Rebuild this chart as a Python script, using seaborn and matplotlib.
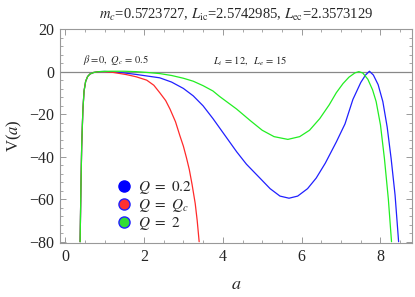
import numpy as np
import pandas as pd
import seaborn as sns
import matplotlib
matplotlib.use("Agg")
import matplotlib.pyplot as plt
from matplotlib.lines import Line2D
from matplotlib.ticker import MultipleLocator

# values
a_blue = [0.38, 0.40, 0.42, 0.45, 0.48, 0.52, 0.57, 0.63, 0.72, 0.85, 1.0, 1.2, 1.5, 1.8,
          2.1, 2.4, 2.7, 3.0, 3.25, 3.5, 3.75, 4.0, 4.35, 4.6, 4.94, 5.2, 5.45, 5.68, 5.9,
          6.15, 6.37, 6.6, 6.88, 7.1, 7.3, 7.5, 7.62, 7.72, 7.82, 7.94, 8.06, 8.17, 8.27,
          8.37, 8.46]
v_blue = [-80, -55, -35, -18, -9, -4.5, -2.2, -1.0, -0.3, 0.1, 0.2, 0.0, -0.5, -1.2,
          -2.0, -2.8, -4.8, -7.8, -11.3, -16, -22, -28.5, -37.6, -43.5, -50, -55, -58.5,
          -59.5, -58.5, -55, -50, -43, -33, -24.5, -13, -5, -1.5, 0.3, -1.5, -6, -14, -26,
          -40.8, -58, -80]

a_red = [0.38, 0.40, 0.42, 0.45, 0.48, 0.52, 0.57, 0.63, 0.72, 0.85, 1.0, 1.2, 1.56, 1.8,
         2.07, 2.25, 2.4, 2.55, 2.66, 2.8, 2.91, 3.0, 3.08, 3.15, 3.22, 3.3, 3.35, 3.4]
v_red = [-80, -55, -35, -18, -9, -4.5, -2.2, -1.0, -0.3, 0.1, 0.1, -0.2, -1.3, -2.3,
         -3.9, -6.3, -9.8, -13.5, -17.5, -23.5, -30, -35, -40.6, -46, -53, -62, -70, -80]

a_green = [0.38, 0.40, 0.42, 0.45, 0.48, 0.52, 0.57, 0.63, 0.72, 0.85, 1.0, 1.2, 1.5, 1.8,
           2.1, 2.4, 2.7, 3.0, 3.25, 3.5, 3.75, 3.92, 4.35, 4.7, 5.0, 5.3, 5.65, 5.95, 6.2,
           6.46, 6.7, 6.88, 7.05, 7.2, 7.35, 7.45, 7.55, 7.68, 7.8, 7.89, 8.0, 8.1, 8.2, 8.28]
v_green = [-80, -55, -35, -18, -9, -4.5, -2.2, -1.0, -0.3, 0.1, 0.25, 0.3, 0.3, 0.1,
           -0.3, -0.8, -1.7, -3.0, -4.4, -6.5, -9, -11.6, -17.5, -23, -27.5, -30.5, -31.8,
           -30.5, -27.5, -22, -15.5, -9.8, -5.5, -2.5, -0.5, 0.1, -0.5, -3.5, -8.5, -14, -25,
           -40.8, -60, -80]

labels = [r"$Q\ =\ 0.2$", r"$Q\ =\ Q_c$", r"$Q\ =\ 2$"]
colors = ["#2020ff", "#ff2a2a", "#22ee22"]

sns.set_style("ticks")
plt.rcParams["font.family"] = ["Liberation Serif", "DejaVu Serif"]
plt.rcParams["mathtext.fontset"] = "stix"

fig = plt.figure(figsize=(4.15, 2.97), dpi=100)
ax = fig.add_axes([0.1446, 0.1818, 0.8482, 0.7206])

ax.axhline(0, color="#888888", lw=0.9, zorder=1)
for a, v, c in zip([a_blue, a_red, a_green], [v_blue, v_red, v_green], colors):
    sns.lineplot(x=a, y=v, color=c, lw=0.9, sort=False, ax=ax, zorder=2)

ax.set_xlim(-0.13, 8.8)
ax.set_ylim(-80.6, 20.2)
ax.xaxis.set_major_locator(MultipleLocator(2))
ax.xaxis.set_minor_locator(MultipleLocator(0.5))
ax.yaxis.set_major_locator(MultipleLocator(20))
ax.yaxis.set_minor_locator(MultipleLocator(4))
ax.tick_params(which="both", direction="in", top=True, right=True, color="#999999",
               labelsize=11.5, pad=4)
ax.tick_params(which="major", length=4, width=0.7)
ax.tick_params(which="minor", length=2, width=0.6)
for s in ax.spines.values():
    s.set_color("#999999")
    s.set_linewidth(0.8)

ax.set_xlabel(r"$a$", fontsize=13, labelpad=8)
ax.set_ylabel(r"V($a$)", fontsize=12, labelpad=4)
ax.set_title(r"$m_c$=0.5723727, $L_{\rm ic}$=2.5742985, $L_{\rm ec}$=2.3573129",
             fontsize=10.5, pad=7)

ax.text(0.065, 0.84, r"$\beta = 0,\ Q_c\,=\,0.5$", transform=ax.transAxes, fontsize=7.5)
ax.text(0.435, 0.84, r"$L_i\,=\,12,\ \ L_e\,=\,15$", transform=ax.transAxes, fontsize=7.5)

handles = [
    Line2D([], [], ls="", marker="o", ms=8, mfc="#0000ff", mec="#0000ff"),
    Line2D([], [], ls="", marker="o", ms=8, mfc="#ff3030", mec="#2020ff"),
    Line2D([], [], ls="", marker="o", ms=8, mfc="#33dd33", mec="#2020ff"),
]
ax.legend(handles, labels, loc="upper left", bbox_to_anchor=(0.13, 0.34), frameon=False,
          fontsize=11, handletextpad=0.3, labelspacing=0.05, handlelength=1.2,
          borderpad=0.1)

fig.savefig("out.png", dpi=100)
